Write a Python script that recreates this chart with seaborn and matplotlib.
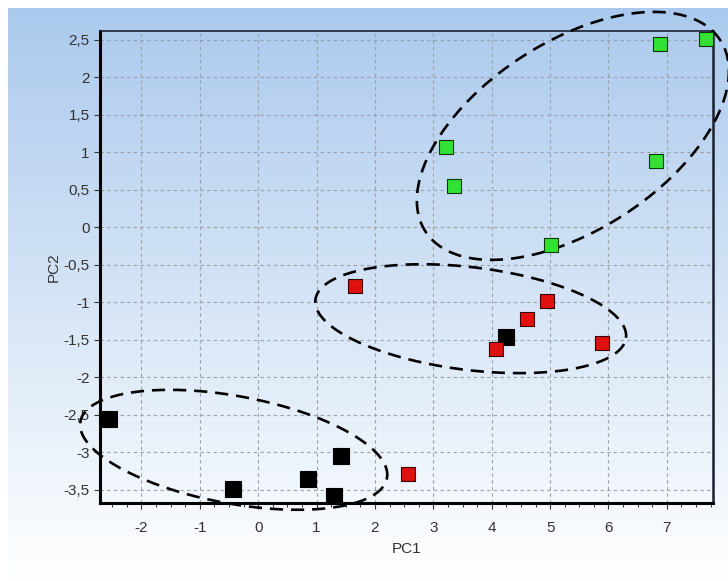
import numpy as np
import pandas as pd
import matplotlib
matplotlib.use('Agg')
import matplotlib.pyplot as plt
import seaborn as sns
from matplotlib.ticker import MultipleLocator, FuncFormatter

# Scores
pc1_black = [-2.55, -0.44, 0.85, 1.41, 1.29, 4.24]
pc2_black = [-2.56, -3.49, -3.36, -3.05, -3.58, -1.47]
pc1_red = [1.65, 2.57, 4.94, 4.60, 4.07, 5.89]
pc2_red = [-0.78, -3.29, -0.98, -1.23, -1.62, -1.55]
pc1_green = [3.22, 3.36, 5.02, 6.81, 6.88, 7.67]
pc2_green = [1.07, 0.55, -0.24, 0.88, 2.45, 2.51]

# Group ellipses: centre (data), semi-axes (in PC1 units), tilt on screen (deg)
ell_centers = [(5.39, 1.22), (3.64, -1.22), (-0.42, -2.97)]
ell_axes = [(3.01, 1.61), (2.68, 0.88), (2.67, 0.92)]
ell_angles = [33, -7, -10.5]

df = pd.DataFrame({
    'PC1': pc1_black + pc1_red + pc1_green,
    'PC2': pc2_black + pc2_red + pc2_green,
    'group': ['black'] * 6 + ['red'] * 6 + ['green'] * 6,
})
palette = {'black': '#000000', 'red': '#e01010', 'green': '#33e033'}
edges = {'black': '#000000', 'red': '#3a0000', 'green': '#0a3a0a'}
sizes = {'black': 125, 'red': 105, 'green': 105}

sns.set_style('white')
plt.rcParams['font.family'] = ['Liberation Sans', 'DejaVu Sans']

fig = plt.figure(figsize=(7.28, 5.81), dpi=100)

# gradient backdrop
bg = fig.add_axes([8 / 728, 0, 1 - 8 / 728, 1 - 8 / 581], zorder=0)
grad = np.linspace(0, 1, 256)[:, None]
top = np.array([0.67, 0.79, 0.93])
img = top[None, None, :] * (1 - grad[:, :, None]) + np.ones(3)[None, None, :] * grad[:, :, None]
bg.imshow(img, aspect='auto', extent=[0, 1, 0, 1])
bg.set_axis_off()

ax = fig.add_axes([100 / 728, 1 - 503 / 581, 613 / 728, 472 / 581], zorder=1)
ax.set_facecolor('none')
xmin, xmax, ymin, ymax = -2.71, 7.79, -3.68, 2.62
ax.set_xlim(xmin, xmax)
ax.set_ylim(ymin, ymax)

# ellipses, drawn in screen-proportional space
bbox = ax.get_position()
sx = bbox.width * 728 / (xmax - xmin)
sy = bbox.height * 581 / (ymax - ymin)
t = np.linspace(0, 2 * np.pi, 400)
for (cx, cy), (a, b), ang in zip(ell_centers, ell_axes, ell_angles):
    th = np.deg2rad(ang)
    u = a * np.cos(t) * np.cos(th) - b * np.sin(t) * np.sin(th)
    v = a * np.cos(t) * np.sin(th) + b * np.sin(t) * np.cos(th)
    ax.plot(cx + u, cy + v * sx / sy, color='black', lw=1.9,
            dashes=(5, 3), clip_on=False, zorder=3)

for g in ['black', 'red', 'green']:
    sub = df[df['group'] == g]
    sns.scatterplot(data=sub, x='PC1', y='PC2', ax=ax, marker='s', s=sizes[g],
                    color=palette[g], edgecolor=edges[g], linewidth=0.8,
                    zorder=4, clip_on=False, legend=False)

ax.xaxis.set_major_locator(MultipleLocator(1))
ax.yaxis.set_major_locator(MultipleLocator(0.5))
ax.xaxis.set_minor_locator(MultipleLocator(0.25))
fmt = FuncFormatter(lambda v, p: ('%g' % round(v, 2)).replace('.', ','))
ax.xaxis.set_major_formatter(fmt)
ax.yaxis.set_major_formatter(fmt)
ax.grid(True, which='major', color='#98a0aa', lw=0.8, ls=(0, (3, 3)))
ax.tick_params(which='major', direction='out', length=4, width=0.8,
               colors='#333333', labelsize=11, bottom=True, left=True)
ax.tick_params(axis='x', which='major', pad=9)
ax.tick_params(axis='x', which='minor', direction='out', length=3, width=0.7,
               bottom=True, color='#333333')
ax.spines['top'].set_linewidth(1.2)
ax.spines['top'].set_color('#1a2030')
ax.spines['right'].set_linewidth(1.8)
ax.spines['right'].set_color('#1a2030')
for side in ['left', 'bottom']:
    ax.spines[side].set_linewidth(2.2)
    ax.spines[side].set_color('black')

ax.set_xlabel('PC1', fontsize=11, color='#333333', labelpad=5)
ax.set_ylabel('PC2', fontsize=11, color='#333333', labelpad=2)

fig.savefig('out.png', dpi=100)
